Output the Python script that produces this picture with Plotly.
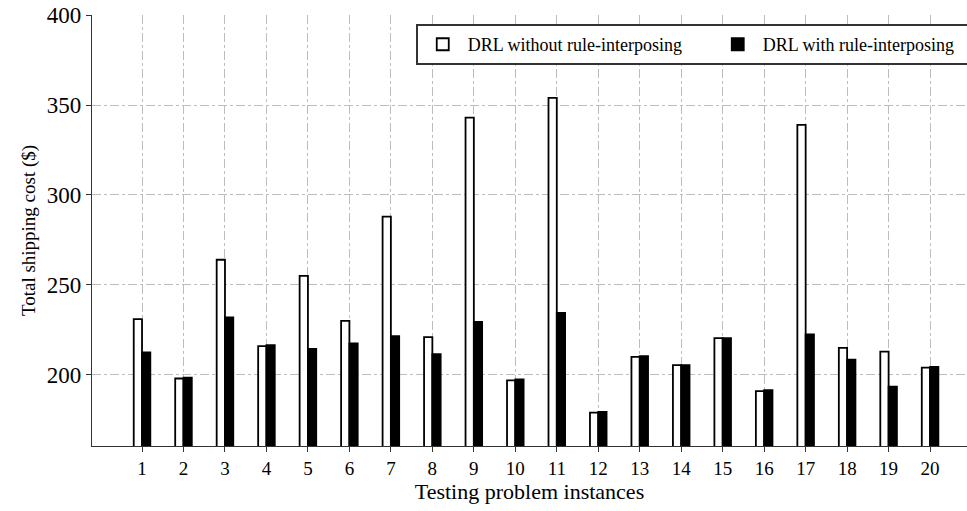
import plotly.graph_objects as go

instances = list(range(1, 21))
tick_labels = [str(i) for i in instances]
without_rule = [231, 198, 264, 216, 255, 230, 288, 221, 343, 197, 354, 179, 210, 205.5, 220.5, 191, 339, 215, 213, 204]
with_rule = [212.5, 198.5, 232, 216.5, 214.5, 217.5, 221.5, 211.5, 229.5, 197.5, 234.5, 179.5, 210.5, 205.5, 220.5, 191.5, 222.5, 208.5, 193.5, 204.5]

font_family = "Liberation Serif, Times New Roman, serif"

fig = go.Figure()
fig.add_trace(go.Bar(
    x=instances, y=without_rule, name="DRL without rule-interposing",
    marker=dict(color="white", line=dict(color="black", width=1.8)),
))
fig.add_trace(go.Bar(
    x=instances, y=with_rule, name="DRL with rule-interposing",
    marker=dict(color="black", line=dict(color="black", width=1.8)),
))

fig.update_layout(
    width=967, height=511,
    margin=dict(l=92, r=0, t=15, b=65, autoexpand=False),
    paper_bgcolor="white", plot_bgcolor="white",
    barmode="group", bargap=0.6, bargroupgap=0,
    font=dict(family=font_family, color="black"),
    showlegend=True,
    legend=dict(
        orientation="h", x=0.370, y=0.979, xanchor="left", yanchor="top",
        bordercolor="#333", borderwidth=2, bgcolor="white",
        font=dict(size=18, family=font_family), itemwidth=40,
        entrywidth=240, traceorder="normal",
    ),
)
fig.update_xaxes(
    range=[-0.206, 20.89], tickmode="array", tickvals=instances, ticktext=tick_labels,
    ticks="outside", ticklen=5, tickcolor="#333", tickwidth=1.2,
    showline=True, linecolor="#333", linewidth=1.2, mirror=False,
    showgrid=True, gridcolor="#bdbdbd", griddash="dashdot", gridwidth=1,
    tickfont=dict(size=19), zeroline=False, automargin=False,
    ticklabeloverflow="allow",
    title=dict(text="Testing problem instances", font=dict(size=22), standoff=2),
)
fig.update_yaxes(
    range=[160.5, 400.02], tickmode="array", tickvals=[200, 250, 300, 350, 400],
    ticktext=["200", "250", "300", "350", "400"],
    ticks="outside", ticklen=5, tickcolor="#333", tickwidth=1.2,
    showline=True, linecolor="#333", linewidth=1.2,
    showgrid=True, gridcolor="#bdbdbd", griddash="dashdot", gridwidth=1,
    tickfont=dict(size=23), zeroline=False, automargin=False,
    ticklabeloverflow="allow",
    title=dict(text="Total shipping cost ($)", font=dict(size=19), standoff=6),
)

# remove the browser's default 8px body margin so the figure fills the window
fig.write_html("out.html", config={"displayModeBar": False},
               post_script="document.body.style.margin='0';")
